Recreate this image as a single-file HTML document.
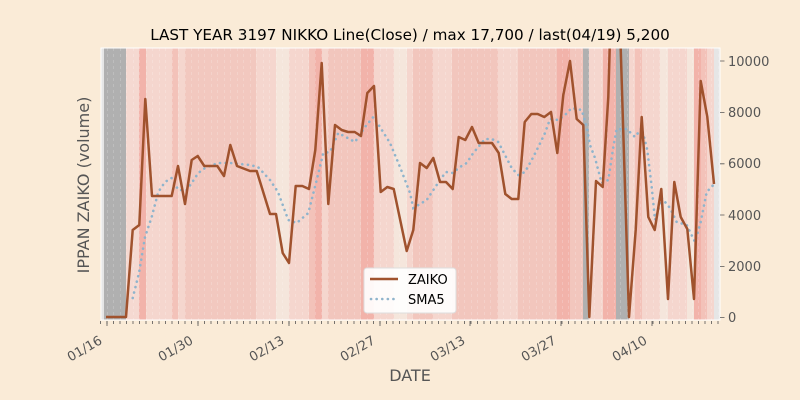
<!DOCTYPE html>
<html><head><meta charset="utf-8"><style>
html,body{margin:0;padding:0;background:#faebd7;}
svg{display:block;font-family:"DejaVu Sans","Liberation Sans",sans-serif;}
</style></head><body>
<svg width="800" height="400" viewBox="0 0 800 400" xmlns="http://www.w3.org/2000/svg">
<rect width="800" height="400" fill="#faebd7"/>
<defs>
<clipPath id="c"><rect x="101" y="48" width="619" height="272"/></clipPath>
<pattern id="vl" x="107" y="48" width="6.5" height="6" patternUnits="userSpaceOnUse">
<line x1="0" y1="0" x2="0" y2="3" stroke="#ffffff" stroke-opacity="0.45" stroke-width="0.8"/>
</pattern>
</defs>
<g clip-path="url(#c)">
<rect x="101" y="48" width="619" height="272" fill="#f5d6ce"/>
<g>
<rect x="101" y="48" width="3" height="272" fill="#e6e6e6"/>
<rect x="104" y="48" width="22" height="272" fill="#b0b0b0"/>
<rect x="126" y="48" width="13" height="272" fill="#f5d9d1"/>
<rect x="139" y="48" width="7" height="272" fill="#f2b3aa"/>
<rect x="172" y="48" width="6" height="272" fill="#f3c2b9"/>
<rect x="185" y="48" width="71" height="272" fill="#f2c8bf"/>
<rect x="276" y="48" width="13" height="272" fill="#f5e6dc"/>
<rect x="309" y="48" width="6" height="272" fill="#f3c2b9"/>
<rect x="315" y="48" width="7" height="272" fill="#f2b3aa"/>
<rect x="328" y="48" width="33" height="272" fill="#f2c6bd"/>
<rect x="361" y="48" width="13" height="272" fill="#f2b3aa"/>
<rect x="394" y="48" width="13" height="272" fill="#f5e6dc"/>
<rect x="413" y="48" width="20" height="272" fill="#f2c6bd"/>
<rect x="452" y="48" width="46" height="272" fill="#f2c6bd"/>
<rect x="518" y="48" width="39" height="272" fill="#f2c6bd"/>
<rect x="557" y="48" width="13" height="272" fill="#f2b3aa"/>
<rect x="570" y="48" width="13" height="272" fill="#f2c6bd"/>
<rect x="583" y="48" width="6" height="272" fill="#b0b0b0"/>
<rect x="603" y="48" width="13" height="272" fill="#f2b3aa"/>
<rect x="616" y="48" width="13" height="272" fill="#b0b0b0"/>
<rect x="635" y="48" width="7" height="272" fill="#f3c2b9"/>
<rect x="660" y="48" width="8" height="272" fill="#f5e6dc"/>
<rect x="687" y="48" width="7" height="272" fill="#f5e6dc"/>
<rect x="694" y="48" width="7" height="272" fill="#f2b3aa"/>
<rect x="701" y="48" width="6" height="272" fill="#f3c2b9"/>
<rect x="714" y="48" width="6" height="272" fill="#e6e6e6"/>
</g>
<rect x="101" y="48" width="619" height="272" fill="url(#vl)"/>
<polyline fill="none" stroke="#8fb4cc" stroke-width="2.6" stroke-dasharray="0.1,5.5" stroke-linecap="round" points="132.7,298 139,273 145,237 151.7,217 158.3,192 165,182 171.7,178 178.3,190 186.7,190 191.7,183 198.3,173 205,168 218,163 230,163 250,165 258,167 270,180 278,192 288.3,220 296.7,223 308.3,213 316.7,180 323.3,153 330,152 338.3,133 355,142 365,127 373.3,117 380,127 390,143 400,167 410,193 413.3,208 426.7,200 440,180 446,172 452.7,173 460,167 466.7,163 473.3,153 480,145 485,139 491.7,139 498.3,142 505,155 511.7,168 518.3,175 525,172 531.7,160 538.3,147 545,133 550,119 558.3,120 565,115 571.7,108 581.7,110 586.7,127 590,145 595,158 601.7,183 608.3,180 613.3,147 616.7,129 626.7,129 635,137 641.7,128 647.3,150 651.7,187 655,220 661.7,198 670,208 676.7,222 686.7,225 695,242 700.7,222 706.7,192 713.3,185"/>
<polyline fill="none" stroke="#a0522d" stroke-width="2.5" stroke-linejoin="round" points="106,317 126,317 132.7,230 139.3,225 145.3,99 152,196 171.7,196 178,166 185,204 191.7,160 197.7,156 204.3,166 217.3,166 224,176 230.3,145 237,166 250,171 256.7,171 270,214 276,214 282.7,253 289,263 295.7,186 302.3,186 309,189 315.3,150 321.7,63 328.3,204 335,125 341.7,130 348,132 354.7,132 361,136 367.3,93 374,86 380.7,192 387.3,187 393.7,189 406.7,251 413.3,230 420,163 426.7,168 433.3,158 440,182 446,182 452.7,189 458.7,137 465.3,140 472,127 478.7,143 492,143 498.7,153 505.3,194 511.7,199 518.3,199 524.7,122 531.3,114 537.7,114 544.3,117 551,112 557.3,153 563.3,95 570,61 576.7,119 583.3,125 589.3,317 596,181 602.7,187 608.3,97 615,-136 629,317 635.7,230 641.7,117 648.3,217 654.7,230 661.3,189 668,299 674.3,182 680.7,217 687.3,229 694,299 700.7,81 707.3,117 714,184"/>
</g>
<rect x="101" y="48" width="619" height="272" fill="none" stroke="#ffffff" stroke-width="1"/>
<g stroke="#555" stroke-width="0.8">
<path d="M100.5,321v3M107,321v3M113.5,321v3M120,321v3M126.5,321v3M133,321v3M139.5,321v3M146,321v3M152.5,321v3M159,321v3M165.5,321v3M172,321v3M178.5,321v3M185,321v3M191.5,321v3M198,321v3M204.5,321v3M211,321v3M217.5,321v3M224,321v3M230.5,321v3M237,321v3M243.5,321v3M250,321v3M256.5,321v3M263,321v3M269.5,321v3M276,321v3M282.5,321v3M289,321v3M295.5,321v3M302,321v3M308.5,321v3M315,321v3M321.5,321v3M328,321v3M334.5,321v3M341,321v3M347.5,321v3M354,321v3M360.5,321v3M367,321v3M373.5,321v3M380,321v3M386.5,321v3M393,321v3M399.5,321v3M406,321v3M412.5,321v3M419,321v3M425.5,321v3M432,321v3M438.5,321v3M445,321v3M451.5,321v3M458,321v3M464.5,321v3M471,321v3M477.5,321v3M484,321v3M490.5,321v3M497,321v3M503.5,321v3M510,321v3M516.5,321v3M523,321v3M529.5,321v3M536,321v3M542.5,321v3M549,321v3M555.5,321v3M562,321v3M568.5,321v3M575,321v3M581.5,321v3M588,321v3M594.5,321v3M601,321v3M607.5,321v3M614,321v3M620.5,321v3M627,321v3M633.5,321v3M640,321v3M646.5,321v3M653,321v3M659.5,321v3M666,321v3M672.5,321v3M679,321v3M685.5,321v3M692,321v3M698.5,321v3M705,321v3M711.5,321v3M718,321v3"/>
<path d="M107,321v5M198,321v5M289,321v5M380,321v5M470,321v5M561,321v5M652,321v5"/>
<path d="M720,61h4.5M720,112.5h4.5M720,163.8h4.5M720,215h4.5M720,266.5h4.5M720,317.5h4.5"/>
</g>
<g fill="#555" font-size="13">
<text x="728" y="66">10000</text>
<text x="728" y="117">8000</text>
<text x="728" y="168">6000</text>
<text x="728" y="220">4000</text>
<text x="728" y="271">2000</text>
<text x="728" y="322">0</text>
<g text-anchor="end">
<text transform="translate(103,343) rotate(-30)">01/16</text>
<text transform="translate(194,343) rotate(-30)">01/30</text>
<text transform="translate(285,343) rotate(-30)">02/13</text>
<text transform="translate(376,343) rotate(-30)">02/27</text>
<text transform="translate(466,343) rotate(-30)">03/13</text>
<text transform="translate(557,343) rotate(-30)">03/27</text>
<text transform="translate(648,343) rotate(-30)">04/10</text>
</g>
</g>
<text x="410" y="381" text-anchor="middle" font-size="16" fill="#555">DATE</text>
<text transform="translate(89,185) rotate(-90)" text-anchor="middle" font-size="16" fill="#555">IPPAN ZAIKO (volume)</text>
<text x="410" y="40" text-anchor="middle" font-size="15.2" fill="#000">LAST YEAR 3197 NIKKO Line(Close) / max 17,700 / last(04/19) 5,200</text>
<rect x="364" y="268" width="92" height="45" rx="3" fill="#ffffff" fill-opacity="0.9" stroke="#dddddd"/>
<line x1="370" y1="279" x2="398" y2="279" stroke="#a0522d" stroke-width="2.5"/>
<line x1="371" y1="299" x2="398" y2="299" stroke="#8fb4cc" stroke-width="2.6" stroke-dasharray="0.1,5.5" stroke-linecap="round"/>
<text x="408" y="284" font-size="13" fill="#000">ZAIKO</text>
<text x="408" y="304" font-size="13" fill="#000">SMA5</text>
</svg>
</body></html>
